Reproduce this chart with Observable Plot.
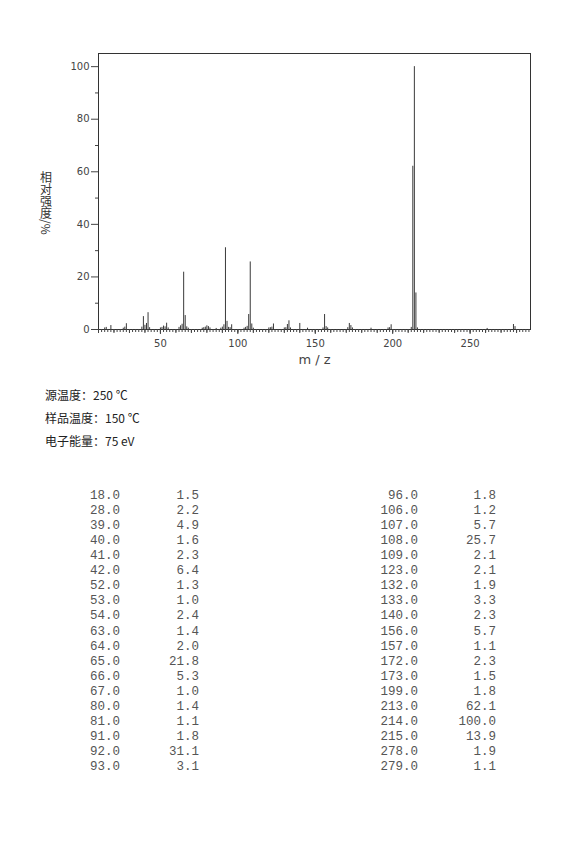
<!DOCTYPE html>
<html>
<head>
<meta charset="utf-8">
<script src="https://cdn.jsdelivr.net/npm/d3@7"></script>
<script src="https://cdn.jsdelivr.net/npm/@observablehq/plot@0.6"></script>
<style>
  body { margin: 0; background: #fff; width: 570px; height: 855px; position: relative; overflow: hidden; }
  #chart { position: absolute; left: 0; top: 0; }
  .cond { position: absolute; left: 45px; font-family: "Noto Sans CJK SC", sans-serif; font-size: 12px; color: #222; line-height: 16px; }
  .cell { position: absolute; font-family: "Liberation Mono", monospace; font-size: 12.5px; color: #555; text-align: right; line-height: 15px; }
</style>
</head>
<body>
<div id="chart"></div>
<div id="conds"></div>
<div id="table"></div>
<script>
// Listed peaks (m/z, relative intensity %)
const tableMz  = [18, 28, 39, 40, 41, 42, 52, 53, 54, 63, 64, 65, 66, 67, 80, 81, 91, 92, 93,
                  96, 106, 107, 108, 109, 123, 132, 133, 140, 156, 157, 172, 173, 199, 213, 214, 215, 278, 279];
const tableInt = [1.5, 2.2, 4.9, 1.6, 2.3, 6.4, 1.3, 1.0, 2.4, 1.4, 2.0, 21.8, 5.3, 1.0, 1.4, 1.1, 1.8, 31.1, 3.1,
                  1.8, 1.2, 5.7, 25.7, 2.1, 2.1, 1.9, 3.3, 2.3, 5.7, 1.1, 2.3, 1.5, 1.8, 62.1, 100.0, 13.9, 1.9, 1.1];
// Small unlisted peaks estimated from the spectrum
const minorMz  = [14, 15, 26, 27, 38, 43, 50, 51, 55, 62, 68, 77, 78, 79, 82, 86, 89, 90, 94, 95,
                  104, 105, 110, 120, 121, 122, 130, 131, 134, 145, 155, 158, 171, 174, 186, 197, 198, 212, 216, 261];
const minorInt = [0.6, 0.8, 0.5, 0.9, 0.9, 0.7, 0.6, 0.8, 0.6, 0.8, 0.5, 0.5, 0.7, 0.9, 0.6, 0.4, 0.5, 0.9, 0.8, 0.7,
                  0.5, 0.8, 0.5, 0.6, 0.7, 0.9, 0.6, 0.7, 0.6, 0.5, 0.6, 0.6, 0.7, 0.6, 0.5, 0.6, 0.7, 0.8, 0.6, 0.4];
const xMajorTicks = [50, 100, 150, 200, 250];
const yMajorTicks = [0, 20, 40, 60, 80, 100];
const yMinorTicks = [10, 30, 50, 70, 90];
const xTitle = "m / z";
const yTitle = "相对强度/%";
const conditions = ["源温度：250 ℃", "样品温度：150 ℃", "电子能量：75 eV"];

const peaks = tableMz.map((m, i) => ({mz: m, int: tableInt[i]}))
  .concat(minorMz.map((m, i) => ({mz: m, int: minorInt[i]})));

const chart = Plot.plot({
  width: 570,
  height: 375,
  marginLeft: 98,
  marginRight: 40,
  marginTop: 53,
  marginBottom: 46,
  x: {domain: [10, 289], label: null},
  y: {domain: [0, 105], label: null},
  style: {fontFamily: "DejaVu Sans", fontSize: "10px", color: "#333", background: "#fff"},
  marks: [
    Plot.ruleX(peaks, {x: "mz", y1: 0, y2: "int", stroke: "#3a3a3a", strokeWidth: 1}),
    Plot.frame({stroke: "#333"}),
    Plot.axisX({ticks: d3.range(10, 290, 2), tickSize: 3, text: null, stroke: "#444"}),
    Plot.axisX({ticks: d3.range(10, 290, 10), tickSize: 4, text: null, stroke: "#444"}),
    Plot.axisX({ticks: xMajorTicks, tickSize: 5, tickPadding: 5, stroke: "#444", fill: "#444"}),
    Plot.axisY({ticks: yMinorTicks, tickSize: 3, text: null, stroke: "#444"}),
    Plot.axisY({ticks: yMajorTicks, tickSize: 7, tickPadding: 2, stroke: "#444", fill: "#444"}),
    Plot.text([xTitle], {frameAnchor: "bottom", dy: 34, fontSize: 13, fill: "#444"})
  ]
});
document.getElementById("chart").appendChild(chart);

// vertical y-axis title
d3.select(chart).append("text")
  .attr("x", 46).attr("y", 203)
  .attr("fill", "#333")
  .style("writing-mode", "vertical-rl")
  .style("font-family", "'Noto Sans CJK SC', sans-serif")
  .style("font-size", "12px")
  .text(yTitle);

// conditions
const condBox = document.getElementById("conds");
conditions.forEach((t, i) => {
  const d = document.createElement("div");
  d.className = "cond";
  d.style.top = (387 + i * 23) + "px";
  d.textContent = t;
  condBox.appendChild(d);
});

// peak table
const tbl = document.getElementById("table");
const half = Math.ceil(tableMz.length / 2);
tableMz.forEach((m, i) => {
  const col = i < half ? 0 : 1;
  const row = i < half ? i : i - half;
  const top = 489 + row * 15.06;
  const mzRight = col === 0 ? 120 : 418;
  const inRight = col === 0 ? 199 : 496;
  const a = document.createElement("div");
  a.className = "cell";
  a.style.top = top + "px";
  a.style.left = (mzRight - 60) + "px";
  a.style.width = "60px";
  a.textContent = m.toFixed(1);
  const b = document.createElement("div");
  b.className = "cell";
  b.style.top = top + "px";
  b.style.left = (inRight - 60) + "px";
  b.style.width = "60px";
  b.textContent = tableInt[i].toFixed(1);
  tbl.appendChild(a);
  tbl.appendChild(b);
});
</script>
</body>
</html>
